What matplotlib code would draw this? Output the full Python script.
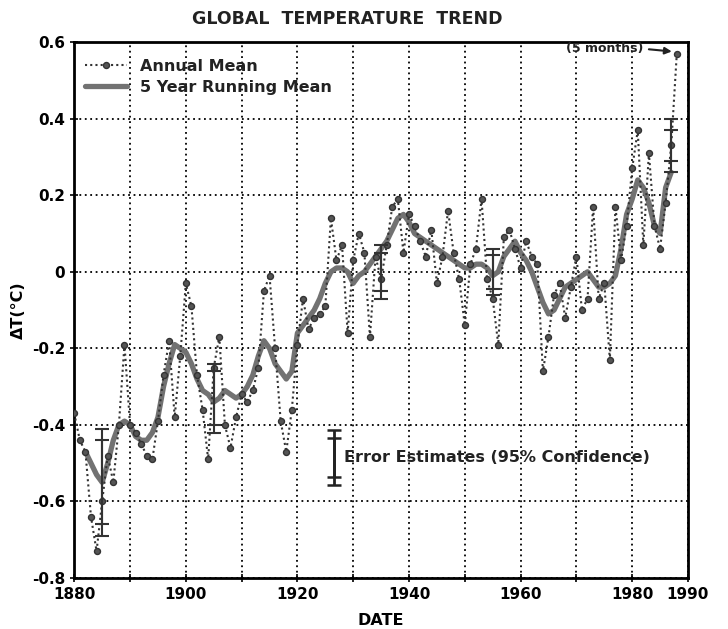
import numpy as np
import matplotlib
matplotlib.use("Agg")
import matplotlib.pyplot as plt

# annual mean, 1880-1987, last entry is 1988 (5 months)
years = list(range(1880, 1989))
annual = [-0.37, -0.44, -0.47, -0.64, -0.73, -0.60, -0.48, -0.55, -0.40, -0.19,
          -0.40, -0.42, -0.45, -0.48, -0.49, -0.39, -0.27, -0.18, -0.38, -0.22,
          -0.03, -0.09, -0.27, -0.36, -0.49, -0.25, -0.17, -0.40, -0.46, -0.38,
          -0.32, -0.34, -0.31, -0.25, -0.05, -0.01, -0.20, -0.39, -0.47, -0.36,
          -0.19, -0.07, -0.15, -0.12, -0.11, -0.09, 0.14, 0.03, 0.07, -0.16,
          0.03, 0.10, 0.05, -0.17, 0.04, -0.02, 0.07, 0.17, 0.19, 0.05,
          0.15, 0.12, 0.08, 0.04, 0.11, -0.03, 0.04, 0.16, 0.05, -0.02,
          -0.14, 0.02, 0.06, 0.19, -0.02, -0.07, -0.19, 0.09, 0.11, 0.06,
          0.01, 0.08, 0.04, 0.02, -0.26, -0.17, -0.06, -0.03, -0.12, -0.04,
          0.04, -0.10, -0.07, 0.17, -0.07, -0.03, -0.23, 0.17, 0.03, 0.12,
          0.27, 0.37, 0.07, 0.31, 0.12, 0.06, 0.18, 0.33,
          0.57]

# 5 year running mean, 1882-1987
run_years = list(range(1882, 1988))
running = [-0.47, -0.50, -0.53, -0.55, -0.50, -0.44, -0.40, -0.39,
           -0.40, -0.43, -0.44, -0.44, -0.42, -0.38, -0.30, -0.24, -0.19, -0.20,
           -0.21, -0.24, -0.28, -0.31, -0.32, -0.34, -0.33, -0.31, -0.32, -0.33,
           -0.32, -0.30, -0.27, -0.22, -0.18, -0.20, -0.24, -0.26, -0.28, -0.26,
           -0.16, -0.14, -0.12, -0.10, -0.07, -0.03, 0.00, 0.01, 0.01, 0.00,
           -0.03, -0.01, 0.00, 0.02, 0.04, 0.06, 0.08, 0.11, 0.14, 0.15,
           0.13, 0.10, 0.09, 0.08, 0.07, 0.06, 0.05, 0.04, 0.03, 0.02,
           0.01, 0.01, 0.02, 0.02, 0.01, -0.01, 0.00, 0.04, 0.06, 0.08,
           0.05, 0.03, 0.00, -0.04, -0.08, -0.11, -0.10, -0.07, -0.04, -0.03,
           -0.02, -0.01, 0.00, -0.02, -0.04, -0.04, -0.03, -0.01, 0.06, 0.15,
           0.19, 0.24, 0.22, 0.18, 0.12, 0.10, 0.22, 0.26]

# error estimates (95% confidence)
err_years = [1885, 1905, 1935, 1955, 1987]
err_center = [-0.55, -0.33, 0.00, 0.00, 0.33]
err_outer = [0.14, 0.09, 0.07, 0.06, 0.07]
err_inner = [0.11, 0.07, 0.05, 0.045, 0.04]

fig = plt.figure(figsize=(7.28, 6.29), dpi=100)
ax = fig.add_axes([0.102, 0.081, 0.843, 0.852])

ax.set_xlim(1880, 1990)
ax.set_ylim(-0.8, 0.6)
ax.set_xticks(np.arange(1880, 1991, 10))
ax.set_xticklabels(['1880', '', '1900', '', '1920', '', '1940', '', '1960', '', '1980', '1990'])
ax.set_yticks(np.arange(-0.8, 0.61, 0.2))
ax.set_yticklabels(['-0.8', '-0.6', '-0.4', '-0.2', '0', '0.2', '0.4', '0.6'])
ax.grid(True, color='black', linestyle=(0, (1, 2)), linewidth=1.3)
ax.tick_params(direction='inout', length=6, width=1.2, labelsize=11)
for lab in ax.get_xticklabels() + ax.get_yticklabels():
    lab.set_fontweight('bold')
for s in ax.spines.values():
    s.set_linewidth(2)

ax.plot(run_years, running, color='#727272', linewidth=3.8, solid_capstyle='round',
        label='5 Year Running Mean', zorder=3)
ax.plot(years, annual, color='#333333', linestyle=(0, (1, 1.5)), linewidth=1.5,
        marker='o', markersize=4.3, markerfacecolor='#555555', markeredgecolor='#333333',
        label='Annual Mean', zorder=4)

ax.errorbar(err_years, err_center, yerr=err_outer, fmt='none', ecolor='#333333',
            elinewidth=1.5, capsize=5, capthick=1.5, zorder=5)
ax.errorbar(err_years, err_center, yerr=err_inner, fmt='none', ecolor='#333333',
            elinewidth=1.5, capsize=5, capthick=1.5, zorder=5)

# error legend
ax.errorbar([1926.5], [-0.485], yerr=[0.073], fmt='none', ecolor='#222222',
            elinewidth=2, capsize=5, capthick=1.8)
ax.errorbar([1926.5], [-0.485], yerr=[0.05], fmt='none', ecolor='#222222',
            elinewidth=2, capsize=5, capthick=1.8)
ax.text(1928.3, -0.485, 'Error Estimates (95% Confidence)', fontsize=11.5,
        fontweight='bold', va='center', ha='left', color='#222222')

ax.text(1982.0, 0.583, '(5 months)', fontsize=9, fontweight='bold',
        ha='right', va='center', color='#222222')
ax.annotate('', xy=(1987.6, 0.575), xytext=(1982.5, 0.582),
            arrowprops=dict(arrowstyle='-|>', color='#222222', lw=1.5))

handles, labels = ax.get_legend_handles_labels()
leg = ax.legend(handles[::-1], labels[::-1], loc='upper left', frameon=False,
                fontsize=11.5, handlelength=2.6, borderaxespad=0.3,
                bbox_to_anchor=(0.0, 0.99), labelspacing=0.4)
for t in leg.get_texts():
    t.set_fontweight('bold')
    t.set_color('#222222')

fig.text(0.477, 0.97, 'GLOBAL  TEMPERATURE  TREND', ha='center', va='center',
         fontsize=12.5, fontweight='bold', color='#222222')
ax.set_xlabel('DATE', fontsize=11.5, fontweight='bold', labelpad=8)
ax.set_ylabel('ΔT(°C)', fontsize=11.5, fontweight='bold', labelpad=4)

fig.savefig('out.png', dpi=100, facecolor='white')
